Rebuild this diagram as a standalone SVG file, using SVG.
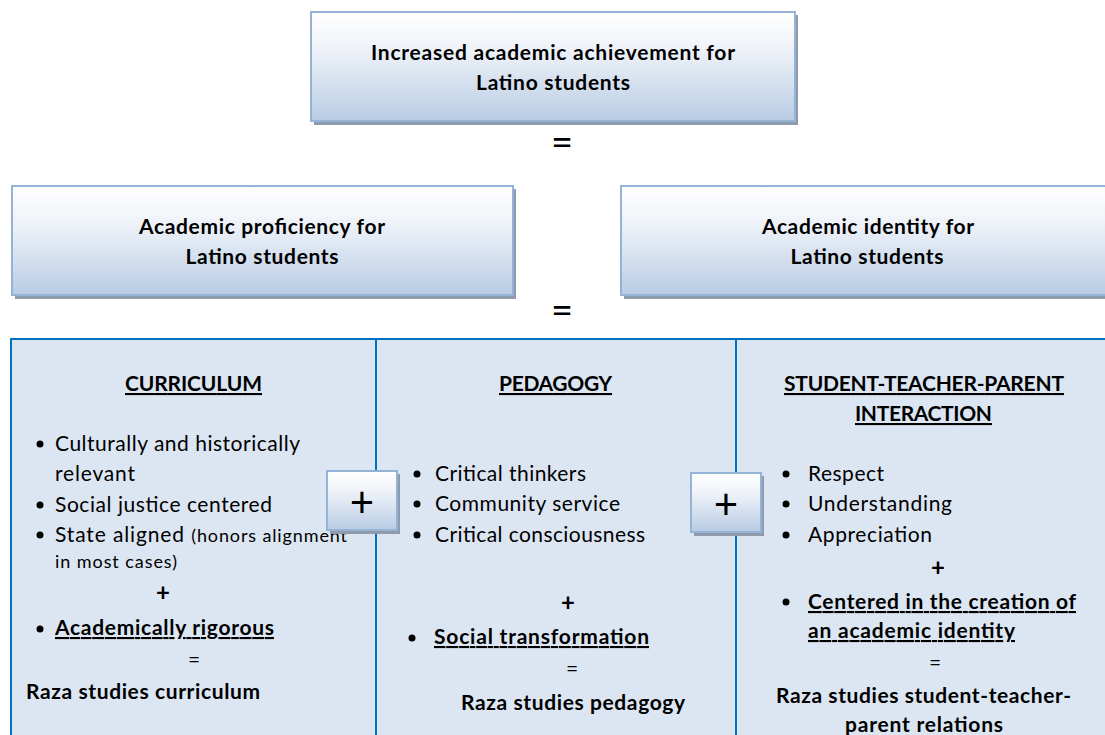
<svg xmlns="http://www.w3.org/2000/svg" width="1105" height="735" viewBox="0 0 1105 735">
<defs>
<linearGradient id="g" x1="0" y1="0" x2="0" y2="1">
<stop offset="0" stop-color="#ffffff"/>
<stop offset="0.35" stop-color="#eef2f8"/>
<stop offset="1" stop-color="#b8cce4"/>
</linearGradient>
<style>
.box{fill:url(#g);stroke:#95b3d7;stroke-width:2}
.sh{fill:#8d9bad}
text{font-family:Lato,"Noto Sans","Liberation Sans",sans-serif;fill:#000}
.h{font-size:21px;font-weight:bold;text-anchor:middle}
.b{font-size:21px}
.bb{font-size:21px;font-weight:bold}
.u{text-decoration:underline}
.sm{font-size:18px}
.c{text-anchor:middle}
.eq{font-size:38px;text-anchor:middle}
.pl{font-size:42px;text-anchor:middle}
.col{fill:#dce6f2;stroke:#0070c0;stroke-width:2}
</style>
</defs>
<rect width="1105" height="735" fill="#ffffff"/>

<g id="top-node">
<rect class="sh" x="314" y="15" width="484" height="110"/>
<rect class="box" x="311" y="12" width="484" height="109"/>
<text class="h" x="553" y="60" textLength="364">Increased academic achievement for</text>
<text class="h" x="553" y="90" textLength="154">Latino students</text>
</g>
<text class="eq" x="562" y="156">=</text>

<g id="proficiency-node">
<rect class="sh" x="15" y="189" width="501" height="110"/>
<rect class="box" x="12" y="186" width="501" height="109"/>
<text class="h" x="262" y="234" textLength="246">Academic proficiency for</text>
<text class="h" x="262" y="264" textLength="153">Latino students</text>
</g>
<g id="identity-node">
<rect class="sh" x="624" y="189" width="490" height="110"/>
<rect class="box" x="621" y="186" width="490" height="109"/>
<text class="h" x="868" y="234" textLength="212">Academic identity for</text>
<text class="h" x="867" y="264" textLength="153">Latino students</text>
</g>
<text class="eq" x="562" y="324">=</text>

<g id="table">
<rect class="col" x="11" y="339" width="1100" height="410"/>
<line x1="376" y1="339" x2="376" y2="740" stroke="#0070c0" stroke-width="2"/>
<line x1="736" y1="339" x2="736" y2="740" stroke="#0070c0" stroke-width="2"/>
</g>

<g id="curriculum">
<text class="h u" x="193.5" y="391" textLength="137">CURRICULUM</text>
<circle cx="40" cy="444" r="3.5"/>
<text class="b" x="55" y="451" textLength="245">Culturally and historically</text>
<text class="b" x="55" y="481" textLength="80">relevant</text>
<circle cx="40" cy="505" r="3.5"/>
<text class="b" x="55" y="512" textLength="217">Social justice centered</text>
<circle cx="40" cy="535" r="3.5"/>
<text class="b" x="55" y="542" textLength="292">State aligned <tspan class="sm">(honors alignment</tspan></text>
<text class="sm" x="55" y="568" textLength="122">in most cases)</text>
<text class="bb c" x="163" y="601" style="font-size:24px">+</text>
<circle cx="40" cy="629" r="3.5"/>
<text class="bb u" x="55" y="635" textLength="219">Academically rigorous</text>
<text class="b c" x="194" y="667">=</text>
<text class="bb" x="26" y="699" textLength="234">Raza studies curriculum</text>
</g>

<g id="pedagogy">
<text class="h u" x="555.5" y="391" textLength="113">PEDAGOGY</text>
<circle cx="417" cy="474" r="3.5"/>
<text class="b" x="435" y="481" textLength="151">Critical thinkers</text>
<circle cx="417" cy="504" r="3.5"/>
<text class="b" x="435" y="511" textLength="185">Community service</text>
<circle cx="417" cy="535" r="3.5"/>
<text class="b" x="435" y="542" textLength="210">Critical consciousness</text>
<text class="bb c" x="568" y="611" style="font-size:24px">+</text>
<circle cx="412" cy="638" r="3.5"/>
<text class="bb u" x="434" y="644" textLength="215">Social transformation</text>
<text class="b c" x="572" y="676">=</text>
<text class="bb c" x="573" y="710" textLength="224">Raza studies pedagogy</text>
</g>

<g id="interaction">
<text class="h u" x="924" y="391" textLength="280">STUDENT-TEACHER-PARENT</text>
<text class="h u" x="923.5" y="421" textLength="137">INTERACTION</text>
<circle cx="786" cy="474" r="3.5"/>
<text class="b" x="808" y="481" textLength="76">Respect</text>
<circle cx="786" cy="504" r="3.5"/>
<text class="b" x="808" y="511" textLength="144">Understanding</text>
<circle cx="786" cy="535" r="3.5"/>
<text class="b" x="808" y="542" textLength="124">Appreciation</text>
<text class="bb c" x="938" y="576" style="font-size:24px">+</text>
<circle cx="786" cy="602" r="3.5"/>
<text class="bb u" x="808" y="609" textLength="268">Centered in the creation of</text>
<text class="bb u" x="808" y="638" textLength="207">an academic identity</text>
<text class="b c" x="935" y="670">=</text>
<text class="bb c" x="923.5" y="703" textLength="295">Raza studies student-teacher-</text>
<text class="bb c" x="924" y="732" textLength="158">parent relations</text>
</g>

<g id="plus-left">
<rect class="sh" x="330" y="474" width="70" height="60"/>
<rect class="box" x="327" y="471" width="70" height="59"/>
<text class="pl" x="362" y="517">+</text>
</g>
<g id="plus-right">
<rect class="sh" x="694" y="476" width="70" height="60"/>
<rect class="box" x="691" y="473" width="70" height="59"/>
<text class="pl" x="726" y="519">+</text>
</g>
</svg>
